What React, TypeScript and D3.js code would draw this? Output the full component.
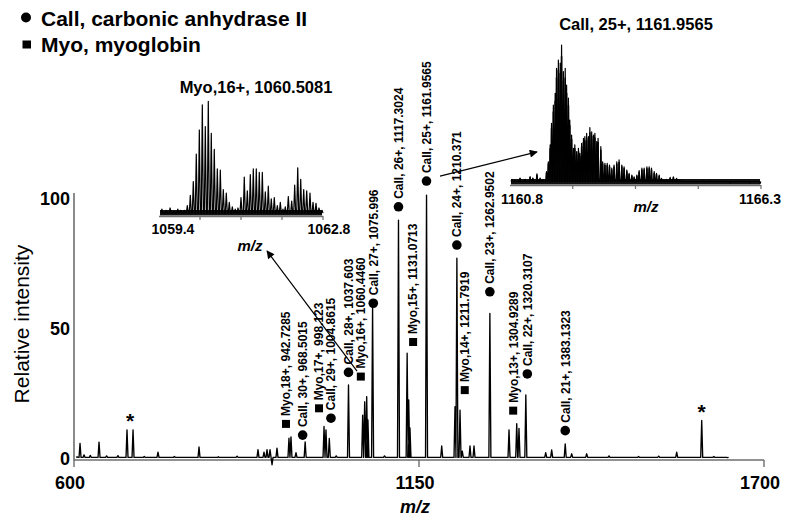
import * as d3 from 'd3'
import { useEffect, useRef } from 'react'

const W = 789
const H = 518
const FONT = 'Liberation Sans, Arial, sans-serif'

// main spectrum: m/z and relative intensity (%)
const peakMz = [
  605, 609.6, 616, 626, 639.9, 652, 670, 684.5, 694.1, 712, 733.9, 760, 799.3, 830, 860,
  893.3, 902.9, 907.7, 912.5, 915.7, 923.6, 942.7, 945.9, 953.9, 968.5, 998.6, 1001.7,
  1007, 1018, 1037.6, 1060.2, 1063.4, 1066.6, 1068.6, 1076, 1095, 1117.3, 1131.1, 1133.6,
  1135.6, 1162, 1186.2, 1207.4, 1210.4, 1215.4, 1219, 1231.3, 1237.7, 1263, 1293.5,
  1305.8, 1309.4, 1320.3, 1352, 1361.5, 1383.1, 1393.4, 1417.3, 1452.9, 1500, 1532.1,
  1560.8, 1600.7, 1620, 1642,
]
const peakInt = [
  0.8, 6, 1.6, 1.4, 6.5, 1.2, 1.3, 11.2, 11.2, 1, 2.6, 1, 4.6, 0.9, 1.1,
  3.6, 2.6, 3.6, 3.6, -2.2, 4.2, 8, 8.5, 2.4, 6.6, 12.5, 11.2,
  7.9, 1.2, 28.5, 16.9, 22, 24, 15, 58.6, 1.2, 91.9, 40.7, 22.7,
  12, 101.5, 5, 20.1, 77.2, 18.8, 3, 5, 5, 56, 11.2,
  13.6, 11.8, 24.6, 2.4, 3.5, 5.8, 2, 2, 1.2, 1, 1.1,
  2.6, 14.8, 1, 0.5,
]

// annotated ions
const ionName = [
  'Myo,18+, 942.7285', 'Call, 30+, 968.5015', 'Myo,17+, 998.123', 'Call, 29+, 1004.8615',
  'Call, 28+, 1037.603', 'Myo,16+, 1060.4460', 'Call, 27+, 1075.996', 'Call, 26+, 1117.3024',
  'Myo,15+, 1131.0713', 'Call, 25+, 1161.9565', 'Call, 24+, 1210.371', 'Myo,14+, 1211.7919',
  'Call, 23+, 1262.9502', 'Myo,13+, 1304.9289', 'Call, 22+, 1320.3107', 'Call, 21+, 1383.1323',
]
const ionKind = ['myo', 'call', 'myo', 'call', 'call', 'myo', 'call', 'call', 'myo', 'call', 'call', 'myo', 'call', 'myo', 'call', 'call']
const ionMz = [942.7285, 968.5015, 998.123, 1004.8615, 1037.603, 1060.446, 1075.996, 1117.3024, 1131.0713, 1161.9565, 1210.371, 1211.7919, 1262.9502, 1304.9289, 1320.3107, 1383.1323]
const ionLevel = [13.5, 9.2, 19.5, 15.7, 33.3, 31.7, 59.9, 97, 45, 106.9, 82.3, 26.5, 64.3, 18.6, 32.7, 10.9]
const ionShift = [-3, -2.5, -4.7, 3, 0, -2, 0.7, 0, 6, 0, 0, 7, 0, -3, 1.5, 0]

const starMz = [689.3, 1600.7]
const starLevel = [16, 19.5]

// inset: Myo 16+ isotope envelope
const myoMz = [
  1059.46, 1059.55, 1059.63, 1059.71, 1059.79, 1059.85, 1059.925, 1059.987, 1060.049, 1060.111,
  1060.173, 1060.236, 1060.298, 1060.36, 1060.422, 1060.484, 1060.546, 1060.609, 1060.671,
  1060.733, 1060.795, 1060.857, 1060.92, 1060.98, 1061.038, 1061.1, 1061.168, 1061.231,
  1061.293, 1061.355, 1061.417, 1061.479, 1061.542, 1061.604, 1061.666, 1061.728, 1061.79,
  1061.853, 1061.915, 1061.97, 1062.018, 1062.081, 1062.151, 1062.213, 1062.276, 1062.338,
  1062.4, 1062.462, 1062.53, 1062.593, 1062.655, 1062.717, 1062.78,
]
const myoInt = [
  6, 5, 7, 4, 6, 5, 5, 9, 18, 30,
  54, 75, 97, 78, 100, 72, 58, 41, 40,
  23, 20, 12, 8, 6, 7, 16, 34, 22,
  36, 41, 41, 38, 38, 21, 26, 15, 16,
  9, 12, 6, 8, 17, 13, 27, 42, 32,
  23, 22, 20, 12, 11, 7, 5,
]

// inset: Call 25+ isotope envelope
const callMz = [
  1160.84, 1160.91, 1161.02, 1161.13, 1161.24, 1161.3, 1161.39, 1161.46, 1161.52,
  1161.6, 1161.64, 1161.68, 1161.71, 1161.75, 1161.79, 1161.82, 1161.86, 1161.9, 1161.93,
  1161.97, 1162.01, 1162.04, 1162.08, 1162.11, 1162.15, 1162.19, 1162.22, 1162.26, 1162.3,
  1162.33, 1162.37, 1162.41, 1162.44, 1162.48, 1162.52, 1162.55, 1162.59, 1162.63, 1162.66,
  1162.7, 1162.73, 1162.79, 1162.83, 1162.88, 1162.93, 1162.98, 1163.03, 1163.08, 1163.14,
  1163.19, 1163.25, 1163.3, 1163.36, 1163.41, 1163.47, 1163.52, 1163.58, 1163.63, 1163.69,
  1163.74, 1163.8, 1163.85, 1163.9, 1163.96, 1164.01, 1164.07, 1164.12, 1164.17, 1164.23,
  1164.31, 1164.38, 1164.45, 1164.52, 1164.6, 1164.74, 1164.89, 1165.04, 1165.18, 1165.33,
  1165.47, 1165.62, 1165.84, 1166.06, 1166.28,
]
const callInt = [
  4, 3, 5, 4, 6, 5, 8, 5, 4,
  9.5, 16.6, 28.6, 44, 57, 65.5, 83.4, 89.3, 87, 100,
  81, 83.4, 71.4, 62, 46.4, 35.7, 26.2, 28.6, 23.8, 26.2,
  22.6, 29.8, 33.4, 34.5, 36.9, 34.5, 41, 38, 35.7, 36.9,
  31, 33.4, 27.4, 16.6, 15.5, 15.5, 14.3, 12, 14.3, 16.6,
  17.9, 14.3, 13, 10.7, 8.4, 7.1, 5.9, 7.1, 10.2, 12,
  12, 13, 13, 12, 9.5, 8.4, 7.1, 4.8, 3.6, 4,
  5.5, 5.9, 4.8, 3.6, 3, 2.8, 2.4, 3, 3, 2.4,
  2.4, 1.6, 2.4, 1.6, 1.2,
]

const xTicks = [600, 1150, 1700]
const yTicks = [0, 50, 100]

function spikes(mz: number[], it: number[], x: any, y: any, half: number, floor: number) {
  let p = ''
  mz.forEach((m, i) => {
    const cx = x(m)
    p += (i ? 'L' : 'M') + (cx - half) + ',' + y(floor)
    p += 'L' + cx + ',' + y(it[i])
    p += 'L' + (cx + half) + ',' + y(floor)
  })
  return p
}

const App = () => {
  const ref = useRef<SVGSVGElement>(null)

  useEffect(() => {
    const svg = d3.select(ref.current)
    svg.selectAll('*').remove()
    svg.style('font-family', FONT)

    const defs = svg.append('defs')
    defs
      .append('marker')
      .attr('id', 'head')
      .attr('viewBox', '0 0 10 10')
      .attr('refX', 9)
      .attr('refY', 5)
      .attr('markerWidth', 10)
      .attr('markerHeight', 8)
      .attr('markerUnits', 'userSpaceOnUse')
      .attr('orient', 'auto')
      .append('path')
      .attr('d', 'M0,0L10,5L0,10z')
      .attr('fill', '#000')

    // legend
    svg.append('circle').attr('cx', 26).attr('cy', 17.5).attr('r', 5).attr('fill', '#000')
    svg.append('text').attr('x', 41).attr('y', 26).attr('font-size', 21).attr('font-weight', 'bold')
      .text('Call, carbonic anhydrase II')
    svg.append('rect').attr('x', 22.5).attr('y', 40.5).attr('width', 8.5).attr('height', 8).attr('fill', '#000')
    svg.append('text').attr('x', 41).attr('y', 52).attr('font-size', 21).attr('font-weight', 'bold')
      .text('Myo, myoglobin')

    // main spectrum
    var x = d3.scaleLinear().domain([600, 1700]).range([74, 764])
    var y = d3.scaleLinear().domain([0, 100]).range([459, 199])

    var axisColor = '#6e6e6e'
    svg.append('line').attr('x1', 74).attr('x2', 74).attr('y1', 193).attr('y2', 460.5)
      .attr('stroke', axisColor).attr('stroke-width', 1.6)
    svg.append('line').attr('x1', 74).attr('x2', 764).attr('y1', 460).attr('y2', 460)
      .attr('stroke', axisColor).attr('stroke-width', 1.6)
    xTicks.forEach((t) => {
      svg.append('line').attr('x1', x(t)).attr('x2', x(t)).attr('y1', 460).attr('y2', 467)
        .attr('stroke', axisColor).attr('stroke-width', 1.4)
      svg.append('text').attr('x', x(t) - 4).attr('y', 489).attr('text-anchor', 'middle')
        .attr('font-size', 18).attr('font-weight', 'bold').text(t)
    })
    yTicks.forEach((t) => {
      svg.append('text').attr('x', 70).attr('y', y(t) + 6).attr('text-anchor', 'end')
        .attr('font-size', 18).attr('font-weight', 'bold').text(t)
    })
    svg.append('text').attr('x', 415).attr('y', 513).attr('text-anchor', 'middle')
      .attr('font-size', 18).attr('font-weight', 'bold').attr('font-style', 'italic').text('m/z')
    svg.append('text').attr('transform', 'translate(29,324) rotate(-90)').attr('text-anchor', 'middle')
      .attr('font-size', 21).text('Relative intensity')

    svg.append('path').attr('d', spikes(peakMz, peakInt, x, y, 1, 0.6))
      .attr('fill', 'none').attr('stroke', '#000').attr('stroke-width', 1.35).attr('stroke-linejoin', 'round')

    starMz.forEach((m, i) => {
      svg.append('text').attr('x', x(m)).attr('y', y(starLevel[i]) + 11).attr('text-anchor', 'middle')
        .attr('font-size', 21).attr('font-weight', 'bold').text('*')
    })

    // arrows to the insets
    svg.append('line').attr('x1', x(1051.2)).attr('y1', y(33.8)).attr('x2', x(907.7)).attr('y2', y(80))
      .attr('stroke', '#000').attr('stroke-width', 1.2).attr('marker-end', 'url(#head)')
    svg.append('line').attr('x1', x(1183.5)).attr('y1', y(108.8)).attr('x2', x(1338.1)).attr('y2', y(118.1))
      .attr('stroke', '#000').attr('stroke-width', 1.2).attr('marker-end', 'url(#head)')

    // ion labels
    ionName.forEach((name, i) => {
      const cx = x(ionMz[i]) + ionShift[i]
      const cy = y(ionLevel[i])
      if (ionKind[i] === 'call') svg.append('circle').attr('cx', cx).attr('cy', cy).attr('r', 4.8)
      else svg.append('rect').attr('x', cx - 4).attr('y', cy - 4).attr('width', 8).attr('height', 8)
      svg.append('text').attr('transform', 'translate(' + cx + ',' + (cy - 8) + ') rotate(-90)')
        .attr('dy', '0.36em').attr('font-size', 12).attr('font-weight', 'bold').text(name)
    })

    // insets
    const insets = [
      { mz: myoMz, it: myoInt, dom: [1059.4, 1062.8], x0: 159, x1: 323, base: 216, top: 101.3, fill: false,
        title: 'Myo,16+, 1060.5081', titleX: 256, titleY: 93, half: 1, labY: 234, lab0: 173, lab1: 329, mzX: 250, mzY: 251 },
      { mz: callMz, it: callInt, dom: [1160.8, 1166.3], x0: 510, x1: 761, base: 185, top: 45, fill: true,
        title: 'Call, 25+, 1161.9565', titleX: 636, titleY: 30, half: 0.8, labY: 204, lab0: 522, lab1: 760, mzX: 646, mzY: 212 },
    ]
    insets.forEach((ins) => {
      const ix = d3.scaleLinear().domain(ins.dom).range([ins.x0, ins.x1])
      const iy = d3.scaleLinear().domain([0, 100]).range([ins.base, ins.top])
      const g = svg.append('g')
      // noisy baseline band
      g.append('line').attr('x1', ins.x0 + 1).attr('x2', ins.x1 - 1).attr('y1', ins.base - 3.2).attr('y2', ins.base - 3.2)
        .attr('stroke', '#111').attr('stroke-width', 5.5)
      g.append('line').attr('x1', ins.x0).attr('x2', ins.x1).attr('y1', ins.base + 0.5).attr('y2', ins.base + 0.5)
        .attr('stroke', axisColor).attr('stroke-width', 1.4)
      d3.range(1, 5).forEach((k) => {
        const tx = ins.x0 + ((ins.x1 - ins.x0) * k) / 4
        g.append('line').attr('x1', tx).attr('x2', tx).attr('y1', ins.base).attr('y2', ins.base + 4)
          .attr('stroke', axisColor).attr('stroke-width', 1.2)
      })
      if (ins.fill) {
        // dense isotope lines merge into a dark body
        g.selectAll('line.iso').data(ins.mz).enter().append('line')
          .attr('x1', (d) => ix(d)).attr('x2', (d) => ix(d))
          .attr('y1', iy(0) - 1).attr('y2', (d, i) => iy(ins.it[i] * 0.92))
          .attr('stroke', '#111').attr('stroke-width', 1.6)
      }
      g.append('path').attr('d', spikes(ins.mz, ins.it, ix, iy, ins.half, 2.5))
        .attr('fill', 'none').attr('stroke', '#000').attr('stroke-width', 1.2).attr('stroke-linejoin', 'round')
      g.append('text').attr('x', ins.titleX).attr('y', ins.titleY).attr('text-anchor', 'middle')
        .attr('font-size', 16.5).attr('font-weight', 'bold').text(ins.title)
      g.append('text').attr('x', ins.lab0).attr('y', ins.labY).attr('text-anchor', 'middle')
        .attr('font-size', 14).attr('font-weight', 'bold').text(ins.dom[0].toFixed(1))
      g.append('text').attr('x', ins.lab1).attr('y', ins.labY).attr('text-anchor', 'middle')
        .attr('font-size', 14).attr('font-weight', 'bold').text(ins.dom[1].toFixed(1))
      g.append('text').attr('x', ins.mzX).attr('y', ins.mzY).attr('text-anchor', 'middle')
        .attr('font-size', 15).attr('font-weight', 'bold').attr('font-style', 'italic').text('m/z')
    })
  }, [])

  return (
    <svg
      ref={ref}
      width={W}
      height={H}
      style={{ position: 'absolute', left: 0, top: 0, background: '#fff' }}
    />
  )
}

export default App
